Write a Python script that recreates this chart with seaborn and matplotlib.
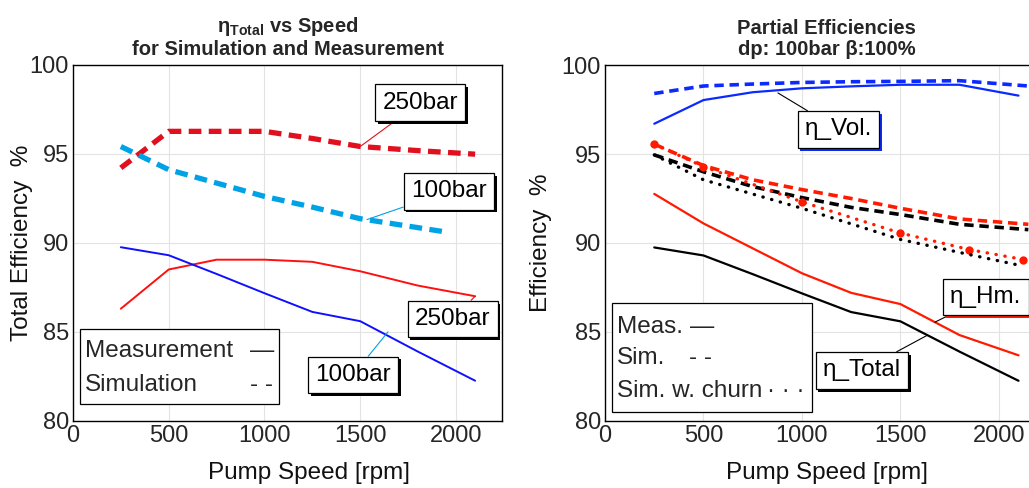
import matplotlib
matplotlib.use("Agg")
import matplotlib.pyplot as plt
import matplotlib.patheffects as pe
from matplotlib.patches import Rectangle
import seaborn as sns

# ---- data ----
# left: total efficiency vs speed
speed_meas = [250, 500, 750, 1000, 1250, 1500, 1800, 2100]
eff_250_meas = [86.3, 88.5, 89.05, 89.05, 88.93, 88.4, 87.6, 87.0]
eff_100_meas = [89.75, 89.3, 88.25, 87.17, 86.12, 85.6, 83.9, 82.26]

speed_250_sim = [250, 500, 750, 1000, 1250, 1500, 1800, 2100]
eff_250_sim = [94.2, 96.25, 96.25, 96.25, 95.85, 95.4, 95.17, 94.97]
speed_100_sim = [250, 500, 750, 1000, 1250, 1500, 1950]
eff_100_sim = [95.4, 94.1, 93.35, 92.6, 92.0, 91.35, 90.6]

# right: partial efficiencies, dp 100bar
speed_vol_meas = [250, 500, 750, 1000, 1250, 1500, 1800, 2100]
eff_vol_meas = [96.7, 98.03, 98.47, 98.69, 98.8, 98.89, 98.89, 98.28]
speed_sim = [250, 500, 750, 1000, 1250, 1500, 1800, 2150]
eff_vol_sim = [98.4, 98.82, 98.93, 99.02, 99.06, 99.08, 99.12, 98.82]
eff_hm_meas = [92.76, 91.1, 89.7, 88.3, 87.2, 86.57, 84.83, 83.69]
eff_hm_sim = [95.55, 94.35, 93.55, 93.0, 92.5, 91.95, 91.35, 91.05]
eff_tot_sim = [94.95, 94.0, 93.17, 92.55, 92.0, 91.6, 91.05, 90.75]
speed_churn = [250, 500, 1000, 1500, 1850, 2125]
eff_hm_churn = [95.56, 94.29, 92.31, 90.56, 89.63, 89.07]
eff_tot_churn = [94.95, 93.55, 91.95, 90.2, 89.35, 88.7]

x_ticks = [0, 500, 1000, 1500, 2000]
y_ticks = [80, 85, 90, 95, 100]

RED_L = "#E0101E"
CYAN = "#00A2E6"
BLUE = "#1010FF"
RED = "#FF1A00"
BLUE_R = "#0A2AFF"

sns.set_style("whitegrid")
plt.rcParams["font.family"] = ["Liberation Sans", "DejaVu Sans"]
plt.rcParams["mathtext.fontset"] = "custom"
plt.rcParams["mathtext.bf"] = "Liberation Sans:bold"
plt.rcParams["mathtext.rm"] = "Liberation Sans"

fig = plt.figure(figsize=(10.29, 4.88), dpi=100)
ax1 = fig.add_axes([0.0709, 0.1373, 0.4169, 0.7305])
ax2 = fig.add_axes([0.588, 0.1373, 0.4305, 0.7295])


def style_axis(ax, xmax):
    ax.set_xlim(0, xmax)
    ax.set_ylim(80, 100)
    ax.set_xticks(x_ticks)
    ax.set_yticks(y_ticks)
    ax.grid(True, color="#e3e3e3", lw=0.8)
    ax.tick_params(axis="both", labelsize=17, colors="#262626", direction="in",
                   length=3, pad=3)
    for s in ax.spines.values():
        s.set_color("black")
        s.set_linewidth(1.0)
    ax.set_xlabel("Pump Speed [rpm]", fontsize=17.5, color="#111111")


def label_box(ax, text, xy, xytext, lc, shadow="black"):
    ann = ax.annotate(text, xy=xy, xycoords="data", xytext=xytext,
                      textcoords="axes fraction", ha="center", va="center",
                      fontsize=17.5, color="black",
                      bbox=dict(boxstyle="square,pad=0.3", fc="white", ec="black", lw=0.9),
                      arrowprops=dict(arrowstyle="-", color=lc, lw=0.8,
                                      shrinkA=0, shrinkB=0), zorder=10)
    ann.get_bbox_patch().set_path_effects(
        [pe.withSimplePatchShadow(offset=(2, -2), shadow_rgbFace=shadow, alpha=1.0)])
    return ann


# ---- left panel ----
sns.lineplot(x=speed_meas, y=eff_250_meas, ax=ax1, color="#FF1010", lw=1.4)
sns.lineplot(x=speed_meas, y=eff_100_meas, ax=ax1, color=BLUE, lw=1.4)
sns.lineplot(x=speed_250_sim, y=eff_250_sim, ax=ax1, color=RED_L, lw=3.8,
             linestyle=(0, (2.4, 1.4)))
sns.lineplot(x=speed_100_sim, y=eff_100_sim, ax=ax1, color=CYAN, lw=3.8,
             linestyle=(0, (2.4, 1.4)))
style_axis(ax1, 2240)
ax1.set_ylabel("Total Efficiency  %", fontsize=17.5, color="#111111")
ax1.yaxis.set_label_coords(-0.093, 0.5)
ax1.xaxis.set_label_coords(0.55, -0.115)
ax1.set_title("η$_{\\mathbf{Total}}$ vs Speed\nfor Simulation and Measurement",
              fontsize=14.5, fontweight="bold", pad=7, linespacing=1.15)

label_box(ax1, "250bar", (1500, 95.4), (0.809, 0.893), RED_L)
label_box(ax1, "100bar", (1535, 91.3), (0.876, 0.644), CYAN)
label_box(ax1, "250bar", (2100, 87.0), (0.885, 0.286), RED_L)
label_box(ax1, "100bar", (1645, 85.0), (0.653, 0.129), CYAN)

ax1.add_patch(Rectangle((0.0163, 0.0477), 0.4637, 0.2103, transform=ax1.transAxes,
                        fc="white", ec="black", lw=0.9, zorder=9))
ax1.text(0.028, 0.196, "Measurement", transform=ax1.transAxes, fontsize=17.5,
         va="center", ha="left", zorder=11)
ax1.text(0.028, 0.101, "Simulation", transform=ax1.transAxes, fontsize=17.5,
         va="center", ha="left", zorder=11)
ax1.text(0.44, 0.196, "—", transform=ax1.transAxes, fontsize=17.5,
         va="center", ha="center", zorder=11)
ax1.text(0.44, 0.101, "- -", transform=ax1.transAxes, fontsize=17.5,
         va="center", ha="center", zorder=11)

# ---- right panel ----
sns.lineplot(x=speed_vol_meas, y=eff_vol_meas, ax=ax2, color=BLUE_R, lw=1.6)
sns.lineplot(x=speed_meas, y=eff_hm_meas, ax=ax2, color=RED, lw=1.6)
sns.lineplot(x=speed_meas, y=eff_100_meas, ax=ax2, color="black", lw=1.6)
sns.lineplot(x=speed_sim, y=eff_vol_sim, ax=ax2, color=BLUE_R, lw=2.6,
             linestyle=(0, (2.6, 1.6)))
sns.lineplot(x=speed_sim, y=eff_hm_sim, ax=ax2, color=RED, lw=2.6,
             linestyle=(0, (2.6, 1.6)))
sns.lineplot(x=speed_sim, y=eff_tot_sim, ax=ax2, color="black", lw=2.6,
             linestyle=(0, (2.6, 1.6)))
sns.lineplot(x=speed_churn, y=eff_hm_churn, ax=ax2, color=RED, lw=2.4,
             linestyle=(0, (0.1, 2.6)), dash_capstyle="round", marker="o",
             markersize=6, markeredgewidth=0)
sns.lineplot(x=speed_churn, y=eff_tot_churn, ax=ax2, color="black", lw=2.4,
             linestyle=(0, (0.1, 2.6)), dash_capstyle="round")
style_axis(ax2, 2250)
ax2.set_ylabel("Efficiency  %", fontsize=17.5, color="#111111")
ax2.yaxis.set_label_coords(-0.12, 0.5)
ax2.xaxis.set_label_coords(0.5, -0.115)
ax2.set_title("Partial Efficiencies\ndp: 100bar β:100%", fontsize=14.5,
              fontweight="bold", pad=7, linespacing=1.15)

label_box(ax2, "η_Vol.", (878, 98.43), (0.527, 0.819), "black", shadow=BLUE_R)
label_box(ax2, "η_Hm.", (1675, 85.55), (0.859, 0.348), "black", shadow=RED)
label_box(ax2, "η_Total", (1634, 84.8), (0.580, 0.142), "black")

ax2.add_patch(Rectangle((0.0158, 0.0253), 0.4512, 0.3057, transform=ax2.transAxes,
                        fc="white", ec="black", lw=0.9, zorder=9))
for label, ypos in [("Meas.", 0.263), ("Sim.", 0.178), ("Sim. w. churn", 0.085)]:
    ax2.text(0.027, ypos, label, transform=ax2.transAxes, fontsize=17.5,
             va="center", ha="left", zorder=11)
ax2.text(0.219, 0.263, "—", transform=ax2.transAxes, fontsize=17.5,
         va="center", ha="center", zorder=11)
ax2.text(0.215, 0.178, "- -", transform=ax2.transAxes, fontsize=17.5,
         va="center", ha="center", zorder=11)
ax2.text(0.408, 0.085, "· · ·", transform=ax2.transAxes, fontsize=17.5,
         va="center", ha="center", zorder=11)

fig.savefig("out.png", dpi=100)
